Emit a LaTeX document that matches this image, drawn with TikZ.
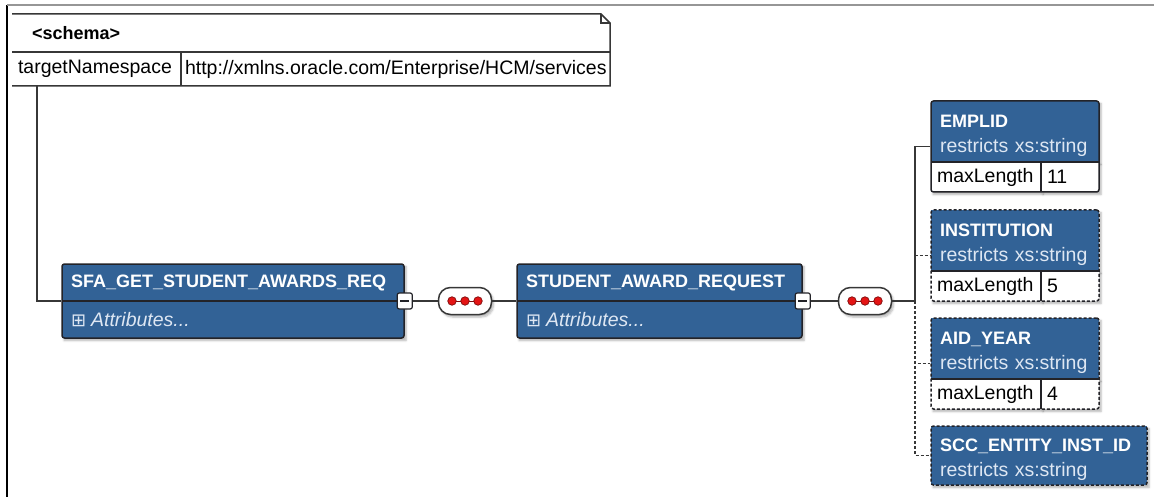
\documentclass[tikz,border=0pt]{standalone}
\usepackage{fontspec}
\setmainfont{Liberation Sans}
\newfontfamily\symfont{DejaVu Sans}
\definecolor{xsdblue}{RGB}{50,98,150}
\definecolor{xsdedge}{RGB}{35,35,40}
\definecolor{xsdline}{RGB}{55,55,55}
\definecolor{xsdsub}{RGB}{222,231,243}
\definecolor{framegray}{RGB}{150,150,150}
\definecolor{seqred}{RGB}{228,20,20}
\usetikzlibrary{shapes,positioning,calc,fit,shadows.blur}

\newcommand\xsdbold{\fontsize{18}{25}\selectfont\bfseries}
\newcommand\xsdtext{\fontsize{19.5}{25}\selectfont}
\newcommand\xsdplus{{\symfont\upshape\fontsize{18}{25}\selectfont ⊞}\hspace{5pt}}
\newcommand\xsdlift{\rule{0pt}{22pt}}

\tikzset{
  boxshadow/.style={blur shadow={shadow xshift=2pt, shadow yshift=-2.5pt, shadow blur steps=5, shadow opacity=30}},
  schemacell/.style={rectangle, anchor=north west, fill=white, outer sep=0pt, inner ysep=0pt, align=left, font=\xsdtext, text=black},
  elemhead/.style={rectangle, anchor=north west, fill=xsdblue, outer sep=0pt, inner xsep=9pt, inner ysep=0pt, minimum height=37pt, align=left, font=\xsdbold, text=white, text width=#1, boxshadow},
  elemattr/.style={elemhead=#1, font=\xsdtext\itshape, text=xsdsub},
  facethead/.style={elemhead=#1, minimum height=61pt, font=\xsdtext, text=xsdsub},
  facetcell/.style={rectangle, anchor=north west, fill=white, outer sep=0pt, inner xsep=6pt, inner ysep=0pt, minimum height=30pt, align=left, font=\xsdtext, text=black, text width=#1, boxshadow},
  elemframe/.style={draw=xsdedge, line width=1.5pt, rounded corners=2.5pt, inner sep=0pt},
  optframe/.style={elemframe, dash pattern=on 3pt off 2pt},
  schemaline/.style={draw=xsdline, line width=1.5pt},
  divline/.style={draw=xsdedge, line width=1.2pt},
  conn/.style={draw=xsdline, line width=1.6pt},
  optconn/.style={conn, dash pattern=on 3pt off 2pt},
  seqbox/.style={rectangle, rounded corners=12pt, minimum width=53pt, minimum height=27pt, draw=xsdline, fill=white, line width=1.5pt, boxshadow},
  reddot/.style={circle, inner sep=0pt, minimum size=8.5pt, fill=seqred, draw=seqred!55!black, line width=0.7pt},
  collapse/.style={rectangle, rounded corners=2pt, minimum width=15pt, minimum height=16pt, draw=xsdedge, fill=white, line width=1.2pt,
    path picture={\draw[xsdedge, line width=1.5pt] ([xshift=-4.5pt]path picture bounding box.center) -- ([xshift=4.5pt]path picture bounding box.center);}},
}

\begin{document}
\begin{tikzpicture}[x=1pt, y=-1pt]
\useasboundingbox (0,0) rectangle (1154,497);

% frame
\draw[black, line width=2pt] (7,497) -- (7,5);
\draw[framegray, line width=1.5pt] (7,5) -- (1154,5);

% schema
\node[schemacell, font=\xsdbold, inner xsep=20pt, text width=558pt, minimum height=38pt] (schemahead) at (12,14) {<schema>};
\node[schemacell, inner xsep=6pt, text width=157pt, minimum height=34pt] (nskey) at (schemahead.south west) {targetNamespace};
\node[schemacell, inner xsep=4pt, text width=421pt, minimum height=34pt, anchor=west] (nsval) at (nskey.east) {http://xmlns.oracle.com/Enterprise/HCM/services};
\draw[schemaline] (nskey.south west) -- (nsval.south east) -- ($(schemahead.north east)+(0,9)$) -- ($(schemahead.north east)+(-9,0)$) -- (schemahead.north west);
\draw[schemaline] ($(schemahead.north east)+(-9,0)$) |- ($(schemahead.north east)+(0,9)$);
\draw[schemaline] (schemahead.south west) -- (schemahead.south east);
\draw[schemaline] (nskey.north east) -- (nskey.south east);
\coordinate (schemaout) at ($(nskey.south west)+(25,0)$);

% request elements
\node[elemhead=324pt] (sfahead) at (62,264) {SFA\_GET\_STUDENT\_AWARDS\_REQ};
\node[elemattr=324pt] (sfaattr) at (sfahead.south west) {\xsdplus Attributes...};
\draw[divline] (sfahead.south west) -- (sfahead.south east);
\node[elemframe, fit=(sfahead)(sfaattr)] (sfareq) {};

\node[elemhead=267pt] (awardhead) at (517,264) {STUDENT\_AWARD\_REQUEST};
\node[elemattr=267pt] (awardattr) at (awardhead.south west) {\xsdplus Attributes...};
\draw[divline] (awardhead.south west) -- (awardhead.south east);
\node[elemframe, fit=(awardhead)(awardattr)] (awardreq) {};

% sequences
\node[seqbox] (seq1) at (465,301) {};
\node[seqbox] (seq2) at (865,301) {};
\foreach \s in {seq1,seq2}{
  \draw[seqred!55!black, line width=0.8pt] ([xshift=-13pt]\s.center) -- ([xshift=13pt]\s.center);
  \foreach \dx in {-13,0,13}
    \node[reddot] at ([xshift=\dx pt]\s.center) {};
}
\coordinate (bus) at (915,301);

% simple types
\node[facethead=150pt] (emplidhead) at (931,101) {\xsdlift{\xsdbold\color{white}EMPLID}\\restricts xs:string};
\node[facetcell=98pt] (emplidkey) at (emplidhead.south west) {maxLength};
\node[facetcell=46pt, anchor=west] (emplidval) at (emplidkey.east) {11};
\draw[divline] (emplidkey.north west) -- (emplidval.north east);
\draw[divline] (emplidkey.north east) -- (emplidkey.south east);
\node[elemframe, fit=(emplidhead)(emplidkey)(emplidval)] (emplid) {};

\node[facethead=150pt] (insthead) at (931,210) {\xsdlift{\xsdbold\color{white}INSTITUTION}\\restricts xs:string};
\node[facetcell=98pt] (instkey) at (insthead.south west) {maxLength};
\node[facetcell=46pt, anchor=west] (instval) at (instkey.east) {5};
\draw[divline] (instkey.north west) -- (instval.north east);
\draw[divline] (instkey.north east) -- (instkey.south east);
\node[optframe, fit=(insthead)(instkey)(instval)] (institution) {};

\node[facethead=150pt] (aidhead) at (931,318) {\xsdlift{\xsdbold\color{white}AID\_YEAR}\\restricts xs:string};
\node[facetcell=98pt] (aidkey) at (aidhead.south west) {maxLength};
\node[facetcell=46pt, anchor=west] (aidval) at (aidkey.east) {4};
\draw[divline] (aidkey.north west) -- (aidval.north east);
\draw[divline] (aidkey.north east) -- (aidkey.south east);
\node[optframe, fit=(aidhead)(aidkey)(aidval)] (aidyear) {};

\node[facethead=198pt, minimum height=59pt] (scchead) at (931,426) {\xsdlift{\xsdbold\color{white}SCC\_ENTITY\_INST\_ID}\\restricts xs:string};
\node[optframe, fit=(scchead)] (sccinst) {};

% connectors
\draw[conn] (schemaout) |- (sfareq.west);
\draw[conn] (sfareq.east) -- (seq1.west);
\draw[conn] (seq1.east) -- (awardreq.west);
\draw[conn] (awardreq.east) -- (seq2.west);
\draw[conn] (seq2.east) -- (bus);
\draw[optconn] (bus) |- (institution.west);
\draw[optconn] (bus) |- (aidyear.west);
\draw[optconn] (bus) |- (sccinst.west);
\draw[conn] (bus) |- (emplid.west);

\node[collapse] (sfacollapse) at (sfareq.east) {};
\node[collapse] (awardcollapse) at (awardreq.east) {};
\end{tikzpicture}
\end{document}
